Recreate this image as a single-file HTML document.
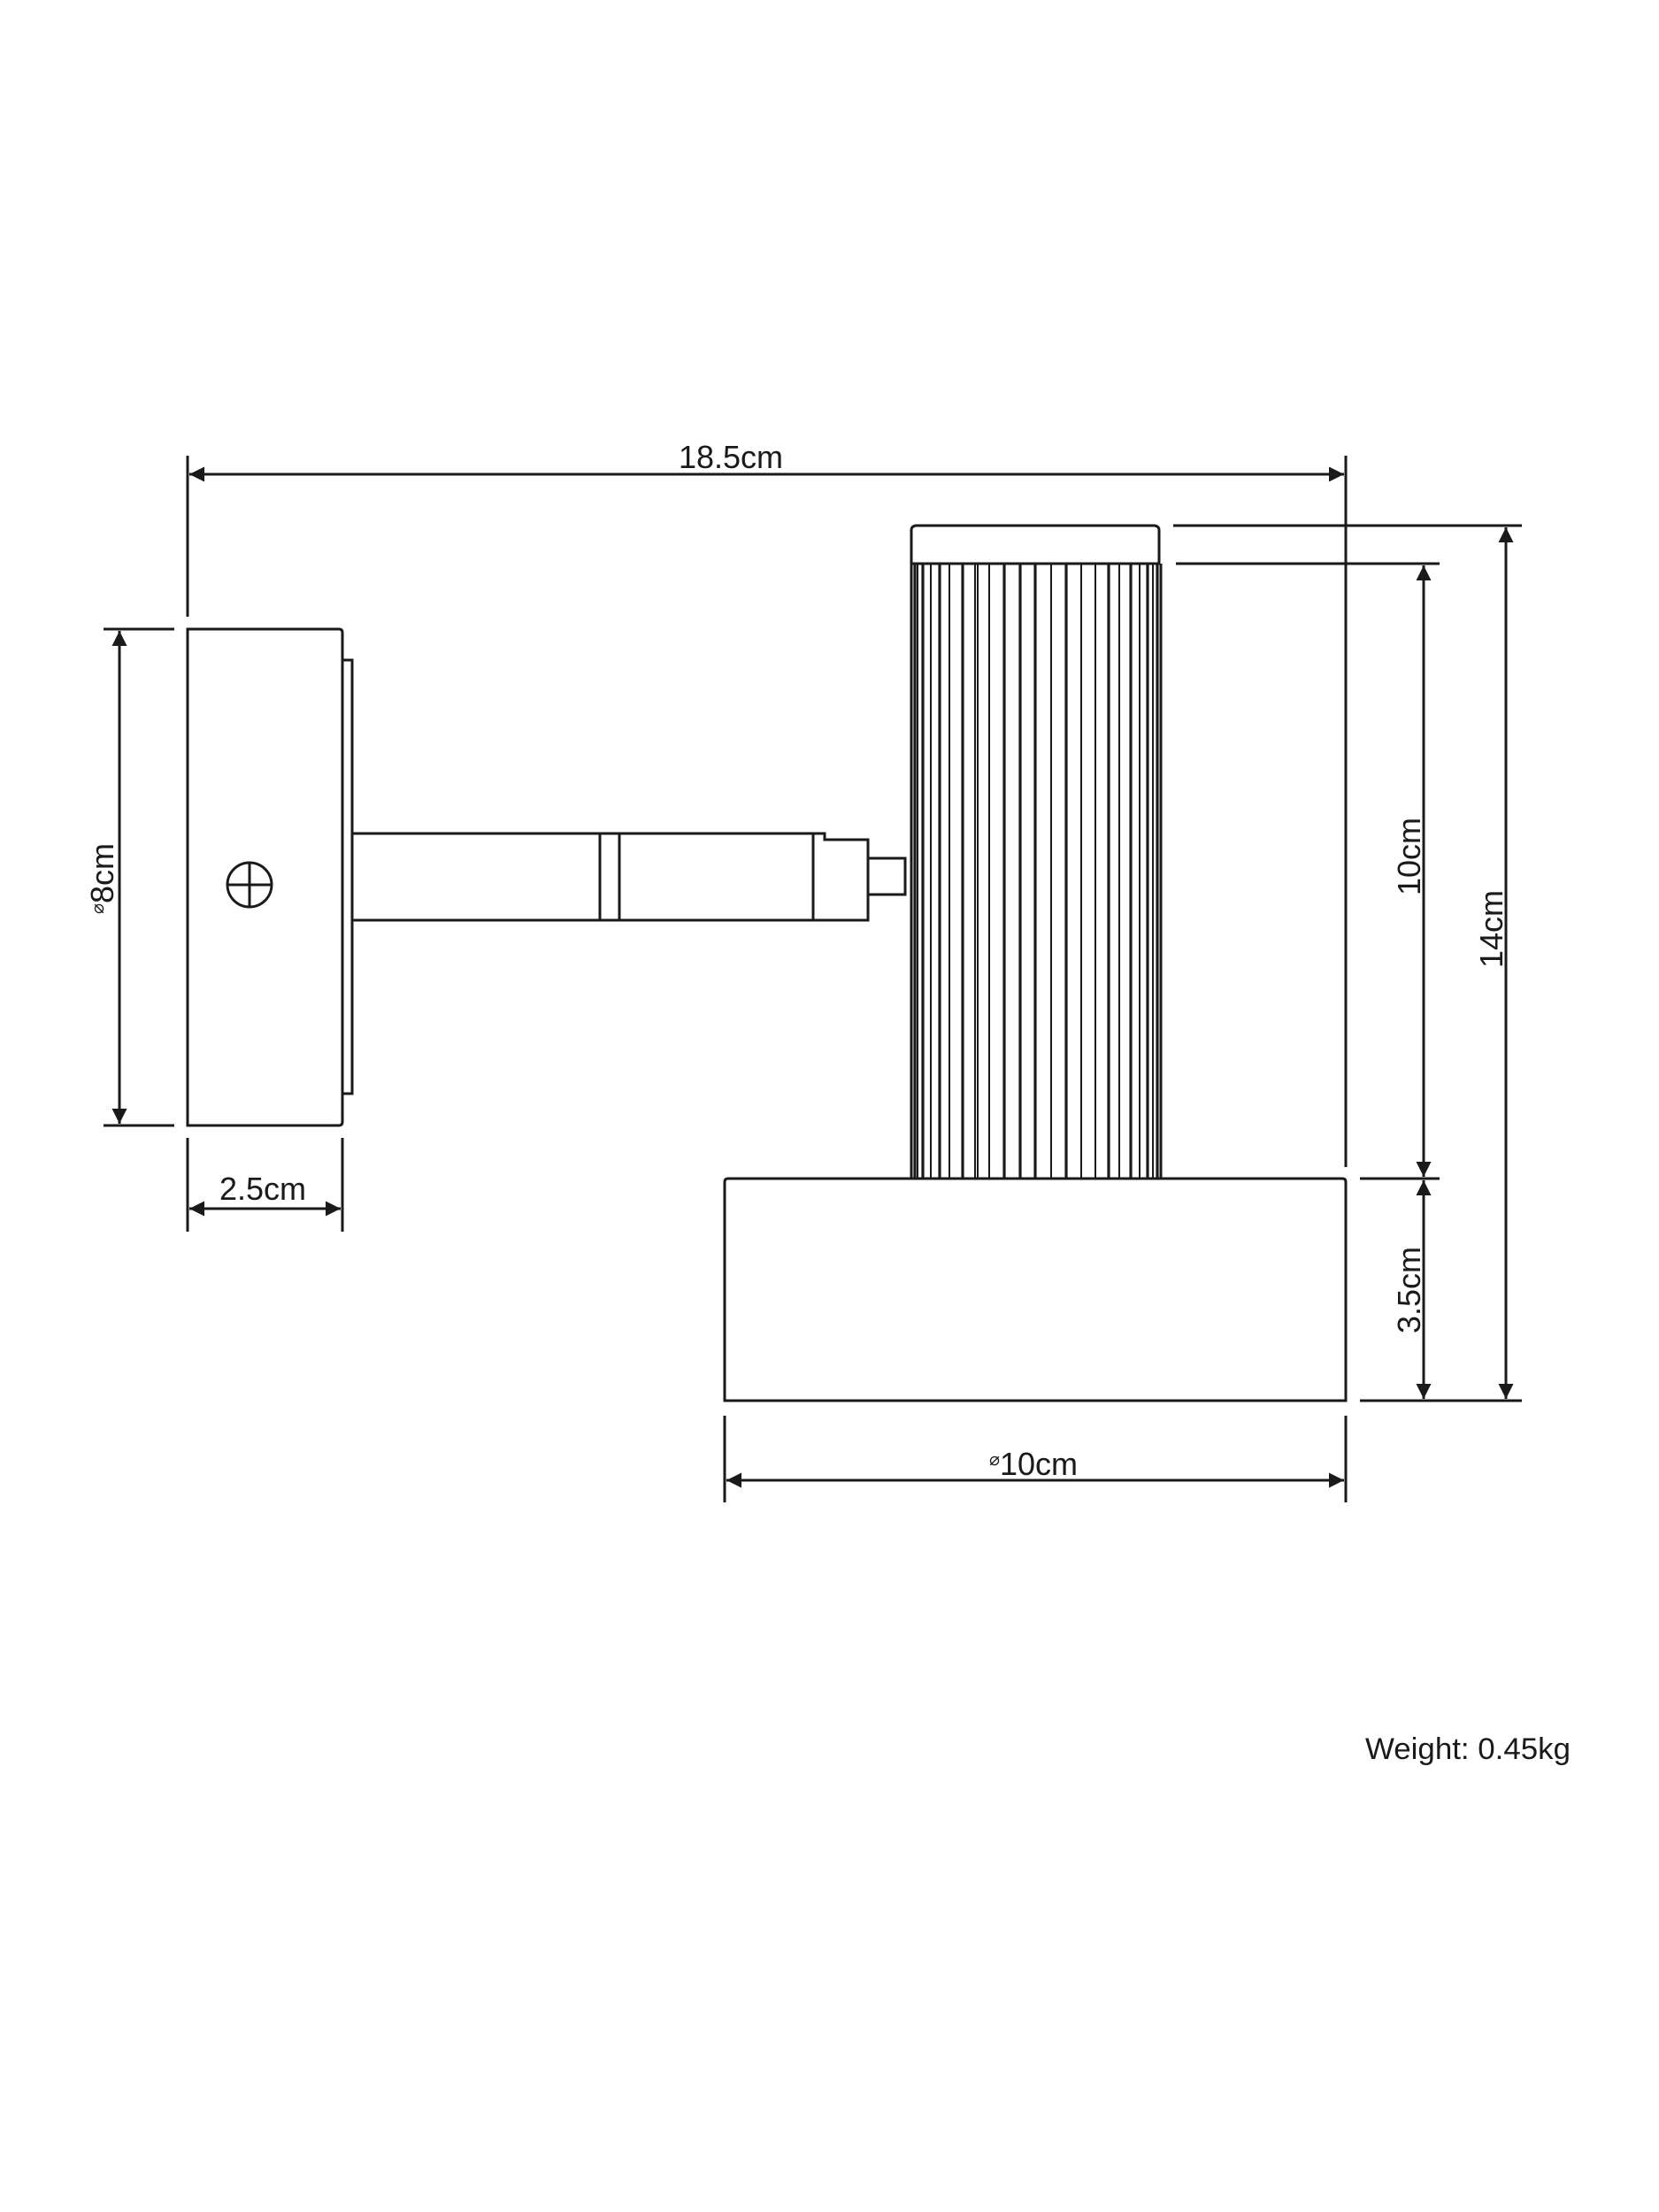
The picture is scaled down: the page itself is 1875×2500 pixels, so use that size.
<!DOCTYPE html>
<html><head><meta charset="utf-8"><style>
html,body{margin:0;padding:0;background:#fff;}
svg{display:block;}
text{font-family:"Liberation Sans",sans-serif;fill:#1a1a1a;}
</style></head><body>
<svg width="1875" height="2500" viewBox="0 0 1875 2500" xmlns="http://www.w3.org/2000/svg">
<defs>
<marker id="a" viewBox="0 0 10 10" refX="10" refY="5" markerWidth="17" markerHeight="17" markerUnits="userSpaceOnUse" orient="auto-start-reverse">
<path d="M0,0 L10,5 L0,10 z" fill="#1a1a1a"/></marker>
</defs>
<g stroke="#1a1a1a" stroke-width="3" fill="none">
<line x1="212" y1="515" x2="212" y2="697"/>
<line x1="1521" y1="515" x2="1521" y2="1319"/>
<line x1="214" y1="536" x2="1519" y2="536" marker-start="url(#a)" marker-end="url(#a)"/>
<path d="M212,711 H383 Q387,711 387,715 V1268 Q387,1272 383,1272 H212 Z"/>
<rect x="387" y="746" width="11" height="490"/>
<circle cx="282" cy="1000" r="25"/>
<line x1="257" y1="1000" x2="307" y2="1000"/>
<line x1="282" y1="975" x2="282" y2="1025"/>
<path d="M398,942 H932 V949 H981 V1040 H398"/>
<line x1="678" y1="942" x2="678" y2="1040"/>
<line x1="700" y1="942" x2="700" y2="1040"/>
<line x1="919" y1="942" x2="919" y2="1040"/>
<rect x="981" y="970" width="42" height="41"/>
<line x1="117" y1="711" x2="197" y2="711"/>
<line x1="117" y1="1272" x2="197" y2="1272"/>
<line x1="135" y1="713" x2="135" y2="1270" marker-start="url(#a)" marker-end="url(#a)"/>
<line x1="212" y1="1286" x2="212" y2="1392"/>
<line x1="387" y1="1286" x2="387" y2="1392"/>
<line x1="214" y1="1366" x2="385" y2="1366" marker-start="url(#a)" marker-end="url(#a)"/>
<path d="M1030,637 V599 Q1030,595 1035,594 H1305 Q1310,595 1310,599 V637 Z"/>
<line x1="1030" y1="637" x2="1030" y2="1332"/>
<line x1="1312" y1="637" x2="1312" y2="1332"/>
</g>
<g stroke="#1a1a1a" fill="none">
<g stroke-width="3.2">
<line x1="1034" y1="637" x2="1034" y2="1332"/><line x1="1043" y1="637" x2="1043" y2="1332"/>
<line x1="1062" y1="637" x2="1062" y2="1332"/><line x1="1088" y1="637" x2="1088" y2="1332"/>
<line x1="1135" y1="637" x2="1135" y2="1332"/><line x1="1153" y1="637" x2="1153" y2="1332"/>
<line x1="1170" y1="637" x2="1170" y2="1332"/><line x1="1205" y1="637" x2="1205" y2="1332"/>
<line x1="1253" y1="637" x2="1253" y2="1332"/><line x1="1278" y1="637" x2="1278" y2="1332"/>
<line x1="1297" y1="637" x2="1297" y2="1332"/><line x1="1308" y1="637" x2="1308" y2="1332"/>
</g>
<g stroke-width="2">
<line x1="1037" y1="637" x2="1037" y2="1332"/><line x1="1052" y1="637" x2="1052" y2="1332"/>
<line x1="1073" y1="637" x2="1073" y2="1332"/><line x1="1102" y1="637" x2="1102" y2="1332"/>
<line x1="1105" y1="637" x2="1105" y2="1332"/><line x1="1118" y1="637" x2="1118" y2="1332"/>
<line x1="1188" y1="637" x2="1188" y2="1332"/><line x1="1222" y1="637" x2="1222" y2="1332"/>
<line x1="1238" y1="637" x2="1238" y2="1332"/><line x1="1265" y1="637" x2="1265" y2="1332"/>
<line x1="1288" y1="637" x2="1288" y2="1332"/><line x1="1303" y1="637" x2="1303" y2="1332"/>
</g>
</g>
<g stroke="#1a1a1a" stroke-width="3" fill="none">
<path d="M819,1583 V1336 Q819,1332 823,1332 H1517 Q1521,1332 1521,1336 V1583 Z"/>
<line x1="1326" y1="594" x2="1720" y2="594"/>
<line x1="1537" y1="1583" x2="1720" y2="1583"/>
<line x1="1702" y1="596" x2="1702" y2="1581" marker-start="url(#a)" marker-end="url(#a)"/>
<line x1="1329" y1="637" x2="1627" y2="637"/>
<line x1="1537" y1="1332" x2="1627" y2="1332"/>
<line x1="1609" y1="639" x2="1609" y2="1330" marker-start="url(#a)" marker-end="url(#a)"/>
<line x1="1609" y1="1334" x2="1609" y2="1581" marker-start="url(#a)" marker-end="url(#a)"/>
<line x1="819" y1="1600" x2="819" y2="1698"/>
<line x1="1521" y1="1600" x2="1521" y2="1698"/>
<line x1="821" y1="1673" x2="1519" y2="1673" marker-start="url(#a)" marker-end="url(#a)"/>
</g>
<g font-size="36">
<text x="826" y="529" text-anchor="middle">18.5cm</text>
<text x="297" y="1356" text-anchor="middle">2.5cm</text>
<text x="1168" y="1667" text-anchor="middle"><tspan font-size="20" dy="-11">⌀</tspan><tspan dy="11">10cm</tspan></text>
<text transform="translate(1605,968) rotate(-90)" text-anchor="middle">10cm</text>
<text transform="translate(1698,1050) rotate(-90)" text-anchor="middle">14cm</text>
<text transform="translate(1605,1458) rotate(-90)" text-anchor="middle">3.5cm</text>
<text transform="translate(128,993) rotate(-90)" text-anchor="middle"><tspan font-size="20" dy="-11">⌀</tspan><tspan dy="11">8cm</tspan></text>
<text x="1543" y="1988" font-size="34" textLength="232" lengthAdjust="spacingAndGlyphs">Weight: 0.45kg</text>
</g>
</svg>
</body></html>
